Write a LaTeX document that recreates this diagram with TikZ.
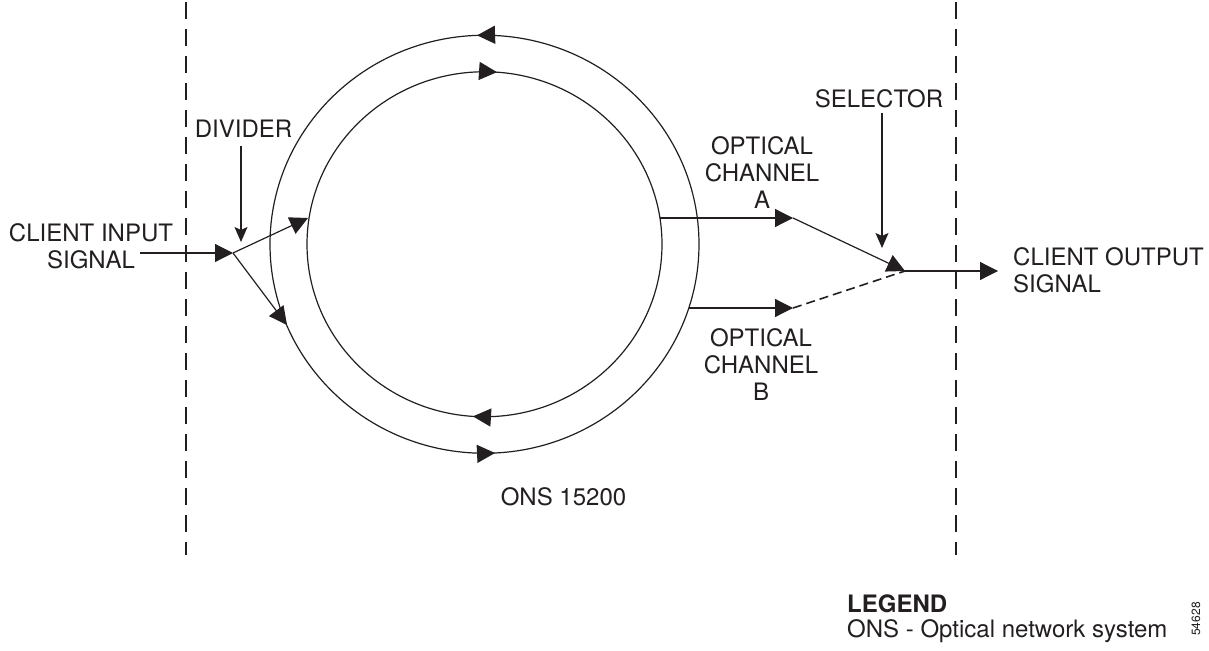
\documentclass[tikz,border=0pt]{standalone}
\usepackage{fontspec}
\setmainfont{TeX Gyre Heros}
\usetikzlibrary{arrows.meta,decorations.markings}
\definecolor{ink}{RGB}{35,31,32}
\begin{document}
\begin{tikzpicture}[x=1pt,y=-1pt,
  every node/.style={text=ink},
  lbl/.style={font=\fontsize{24}{26.7}\selectfont, inner sep=0pt, anchor=base},
  wire/.style={draw=ink, line width=1.2pt},
  flow/.style={wire, -{Triangle[length=18pt,width=18pt]}},
  pointer/.style={wire, -{Stealth[length=15pt,width=13pt,inset=3pt]}},
  standby/.style={draw=ink, line width=1.6pt, dash pattern=on 9pt off 5pt},
  boundary/.style={draw=ink, line width=1.2pt, dash pattern=on 17pt off 10pt},
]
\useasboundingbox (0,0) rectangle (1209,650);

% network boundaries
\coordinate (lbTop) at (186,2);
\coordinate (lbBot) at (186,555);
\coordinate (rbTop) at (956,2);
\coordinate (rbBot) at (956,555);
\draw[boundary] (lbTop) -- (lbBot);
\draw[boundary] (rbTop) -- (rbBot);

% ONS 15200 ring: outer fibre counter-clockwise, inner fibre clockwise
\coordinate (ring) at (484.5,244.25);
\path[wire, postaction={decorate}, decoration={markings,
    mark=at position 0.2421 with {\arrowreversed[ink]{Triangle[length=18pt,width=18pt]}},
    mark=at position 0.7444 with {\arrowreversed[ink]{Triangle[length=18pt,width=18pt]}}}]
  (ring) ellipse [x radius=214.5, y radius=209];
\path[wire, postaction={decorate}, decoration={markings,
    mark=at position 0.2605 with {\arrow[ink]{Triangle[length=18pt,width=18pt]}},
    mark=at position 0.7614 with {\arrow[ink]{Triangle[length=18pt,width=18pt]}}}]
  (ring) ellipse [x radius=177.5, y radius=172.5];

% labels (base anchor = baseline of the last line)
\node[lbl, align=center] (inlbl) at (91,268) {CLIENT INPUT\\SIGNAL};
\node[lbl] (divlbl) at (243.5,137) {DIVIDER};
\node[lbl, align=center] (chA) at (762,208) {OPTICAL\\CHANNEL\\A};
\node[lbl, align=center] (chB) at (761,400) {OPTICAL\\CHANNEL\\B};
\node[lbl] (sellbl) at (879,107) {SELECTOR};
\node[lbl, align=left, anchor=base west] (outlbl) at (1013,292) {CLIENT OUTPUT\\SIGNAL};
\node[lbl] (ringlbl) at (563.5,505) {ONS 15200};
\node[lbl, font=\fontsize{24}{24.5}\selectfont, align=left, anchor=base west] (legend) at (847,637) {\textbf{LEGEND}\\ONS - Optical network system};
\node[font=\fontsize{12}{12}\selectfont, inner sep=0pt, rotate=90] (fignum) at (1196,619) {54628};

% signal points
\coordinate (inS) at (140,253);
\coordinate (D) at (233,253);
\coordinate (innerL) at (308,218);
\coordinate (outerL) at (287,325);
\coordinate (dvTop) at (241,146);
\coordinate (dvTip) at (241,242);
\coordinate (aS) at (660,218);
\coordinate (aE) at (793,218);
\coordinate (bS) at (689,308);
\coordinate (bE) at (793,308);
\coordinate (S) at (905,271);
\coordinate (slTop) at (882,113);
\coordinate (slTip) at (882,248);
\coordinate (outE) at (998,271);

% divider side
\draw[flow] (inS) -- (D);
\draw[flow] (D) -- (innerL);
\draw[flow] (D) -- (outerL);
\draw[pointer] (dvTop) -- (dvTip);

% channels to selector
\draw[flow] (aS) -- (aE);
\draw[flow] (aE) -- (S);
\draw[flow] (bS) -- (bE);
\draw[standby] (bE) -- (S);
\draw[pointer] (slTop) -- (slTip);
\draw[flow] (S) -- (outE);
\end{tikzpicture}
\end{document}
